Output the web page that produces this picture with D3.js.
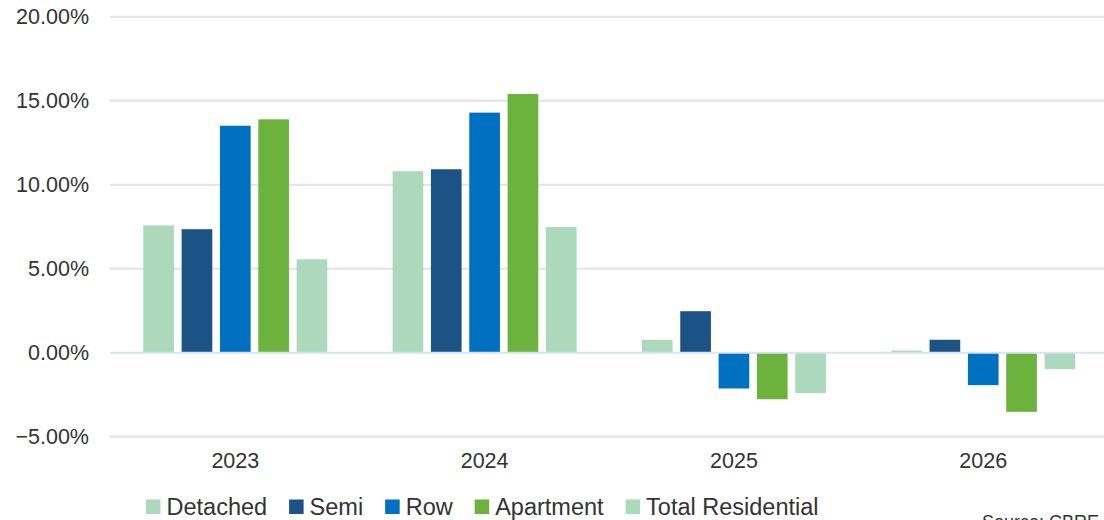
<!DOCTYPE html>
<html>
<head>
<meta charset="utf-8">
<script src="https://cdn.jsdelivr.net/npm/d3@7"></script>
<style>
  html, body { margin: 0; padding: 0; background: #ffffff; }
  svg { display: block; font-family: "Liberation Sans", Arial, sans-serif; }
</style>
</head>
<body>
<svg id="chart" width="1104" height="520"></svg>
<script>
// Annual growth by housing type (%)
const years = ["2023", "2024", "2025", "2026"];
const seriesNames = ["Detached", "Semi", "Row", "Apartment", "Total Residential"];
const detached = [7.58, 10.80, 0.77, 0.13];
const semi = [7.35, 10.92, 2.47, 0.77];
const row = [13.51, 14.29, -2.13, -1.93];
const apartment = [13.89, 15.40, -2.77, -3.52];
const totalResidential = [5.56, 7.48, -2.41, -0.98];
const yTicks = [-5, 0, 5, 10, 15, 20];
const seriesColors = ["#acd9bc", "#1b5386", "#0070c0", "#6cb33e", "#acd9bc"];
const sourceNote = "Source: CBRE";

const seriesValues = [detached, semi, row, apartment, totalResidential];

const svg = d3.select("#chart");

const y = d3.scaleLinear().domain([-5, 20]).range([436.7, 16.7]);
const x = d3.scaleBand().domain(years).range([110.65, 1107.9]).padding(0);
const xi = d3.scaleBand()
  .domain(d3.range(seriesNames.length))
  .range([32.65, 216.65])
  .paddingInner(0.2)
  .paddingOuter(0);

// gridlines
svg.append("g")
  .selectAll("line")
  .data(yTicks.filter(t => t !== 0))
  .join("line")
  .attr("x1", 110)
  .attr("x2", 1104)
  .attr("y1", d => y(d))
  .attr("y2", d => y(d))
  .attr("stroke", "#e3e3e3")
  .attr("stroke-width", 2);

// y-axis labels
const yAxis = d3.axisLeft(y)
  .tickValues(yTicks)
  .tickSize(0)
  .tickPadding(0)
  .tickFormat(d => d3.format(".2f")(d) + "%");
const gy = svg.append("g").attr("transform", "translate(89,0)").call(yAxis);
gy.select(".domain").remove();
gy.selectAll("text")
  .attr("font-size", 21.5)
  .attr("fill", "#333333")
  .attr("font-family", "'Liberation Sans', Arial, sans-serif");

// bars
const groups = svg.append("g")
  .selectAll("g")
  .data(years)
  .join("g")
  .attr("transform", d => `translate(${x(d)},0)`);

groups.selectAll("rect")
  .data((yr, gi) => seriesValues.map((vals, si) => ({ si, v: vals[gi] })))
  .join("rect")
  .attr("x", d => xi(d.si))
  .attr("width", xi.bandwidth())
  .attr("y", d => y(Math.max(0, d.v)))
  .attr("height", d => Math.abs(y(d.v) - y(0)))
  .attr("fill", d => seriesColors[d.si]);

// zero baseline
svg.append("line")
  .attr("x1", 110)
  .attr("x2", 1104)
  .attr("y1", y(0))
  .attr("y2", y(0))
  .attr("stroke", "#d6e4f6")
  .attr("stroke-width", 2);

// x-axis labels
const xAxis = d3.axisBottom(x).tickSize(0).tickPadding(0);
const gx = svg.append("g").attr("transform", "translate(0,453)").call(xAxis);
gx.select(".domain").remove();
gx.selectAll("text")
  .attr("font-size", 21.5)
  .attr("fill", "#333333")
  .attr("font-family", "'Liberation Sans', Arial, sans-serif");

// legend
const legend = svg.append("g").attr("transform", "translate(146,0)");
let lx = 0;
seriesNames.forEach((name, i) => {
  const item = legend.append("g").attr("transform", `translate(${lx},0)`);
  item.append("rect")
    .attr("x", 0)
    .attr("y", 499.5)
    .attr("width", 14.5)
    .attr("height", 14.5)
    .attr("fill", seriesColors[i]);
  const t = item.append("text")
    .attr("x", 20.5)
    .attr("y", 514.5)
    .attr("font-size", 23.5)
    .attr("fill", "#333333")
    .text(name);
  lx += 20.5 + t.node().getComputedTextLength() + 22;
});

// source note, partly below the bottom edge
svg.append("text")
  .attr("x", 982)
  .attr("y", 528)
  .attr("font-size", 18)
  .attr("fill", "#333333")
  .text(sourceNote);
</script>
</body>
</html>
